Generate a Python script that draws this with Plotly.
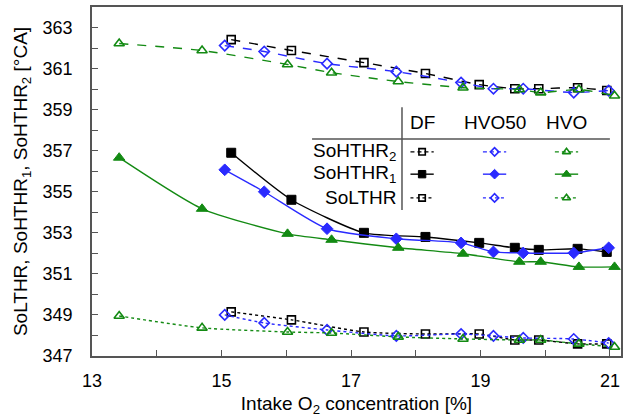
import plotly.graph_objects as go

# ---------------- data ----------------
x_df = [15.15, 16.08, 17.2, 18.15, 18.98, 19.53, 19.9, 20.5, 20.95]
x_hvo50 = [15.05, 15.66, 16.63, 17.7, 18.7, 19.2, 19.66, 20.44, 20.98]
x_hvo = [13.42, 14.7, 16.02, 16.7, 17.73, 18.73, 19.6, 19.93, 20.52, 21.07]

df_sohthr2 = [362.41, 361.88, 361.29, 360.76, 360.22, 360.02, 360.02, 360.07, 359.93]
df_sohthr1 = [356.9, 354.61, 353.0, 352.8, 352.51, 352.27, 352.17, 352.22, 352.07]
df_solthr = [349.15, 348.76, 348.17, 348.07, 348.07, 347.78, 347.78, 347.59, 347.59]

hvo50_sohthr2 = [362.12, 361.83, 361.24, 360.85, 360.32, 360.02, 360.02, 359.83, 359.93]
hvo50_sohthr1 = [356.07, 355.0, 353.2, 352.71, 352.51, 352.07, 352.02, 352.02, 352.27]
hvo50_solthr = [349.0, 348.61, 348.27, 347.98, 348.07, 347.98, 347.88, 347.83, 347.63]

hvo_sohthr2 = [362.22, 361.88, 361.2, 360.8, 360.37, 360.07, 359.98, 359.83, 359.98, 359.68]
hvo_sohthr1 = [356.66, 354.17, 352.95, 352.66, 352.27, 351.98, 351.59, 351.59, 351.34, 351.34]
hvo_solthr = [348.95, 348.37, 348.17, 348.12, 347.93, 347.83, 347.78, 347.78, 347.59, 347.44]

fuels = ["DF", "HVO50", "HVO"]
rows = ["SoHTHR<sub>2</sub>", "SoHTHR<sub>1</sub>", "SoLTHR"]
y_ticks = [347, 349, 351, 353, 355, 357, 359, 361, 363]
x_ticks = [13, 15, 17, 19, 21]

# ---------------- styles ----------------
BLACK = "#000000"
BLUE = "#2a2aff"
GREEN = "#138a13"
FONT = "Liberation Sans, Arial, sans-serif"

series = [
    # (x, y, color, symbol, dash, filled)
    (x_df, df_sohthr2, BLACK, "square", "dash", False),
    (x_hvo50, hvo50_sohthr2, BLUE, "diamond", "dash", False),
    (x_hvo, hvo_sohthr2, GREEN, "triangle-up", "dash", False),
    (x_df, df_sohthr1, BLACK, "square", "solid", True),
    (x_hvo50, hvo50_sohthr1, BLUE, "diamond", "solid", True),
    (x_hvo, hvo_sohthr1, GREEN, "triangle-up", "solid", True),
    (x_df, df_solthr, BLACK, "square", "dot", False),
    (x_hvo50, hvo50_solthr, BLUE, "diamond", "dot", False),
    (x_hvo, hvo_solthr, GREEN, "triangle-up", "dot", False),
]

fig = go.Figure()

def marker_for(color, symbol, filled, scale=1.0):
    size = {"square": 8, "diamond": 8, "triangle-up": 9}[symbol] * scale
    if filled:
        return dict(symbol=symbol, size=size + 1, color=color,
                    line=dict(color=color, width=1))
    return dict(symbol=symbol + "-open", size=size, color=color,
                line=dict(color=color, width=1.6))

for xs, ys, c, sym, dash, filled in series:
    fig.add_trace(go.Scatter(
        x=xs, y=ys, mode="lines+markers",
        line=dict(color=c, width=1.4, dash=dash, shape="spline", smoothing=0.6),
        marker=marker_for(c, sym, filled),
        showlegend=False, xaxis="x", yaxis="y",
    ))

# ---------------- custom table legend (overlay axes in paper units) ----------------
col_x = [0.624, 0.761, 0.897]
row_y = [0.585, 0.521, 0.453]
half = 0.022
styles_by_row = [("dash", False), ("solid", True), ("dot", False)]
colors = [BLACK, BLUE, GREEN]
symbols = ["square", "diamond", "triangle-up"]
for ri, (dash, filled) in enumerate(styles_by_row):
    for ci in range(3):
        fig.add_trace(go.Scatter(
            x=[col_x[ci] - half, col_x[ci], col_x[ci] + half],
            y=[row_y[ri]] * 3,
            mode="lines", line=dict(color=colors[ci], width=1.4,
                                    dash="4px,3px" if dash == "dash" else dash),
            showlegend=False, xaxis="x2", yaxis="y2", hoverinfo="skip",
        ))
        fig.add_trace(go.Scatter(
            x=[col_x[ci]], y=[row_y[ri]], mode="markers",
            marker=marker_for(colors[ci], symbols[ci], filled, scale=0.8),
            showlegend=False, xaxis="x2", yaxis="y2", hoverinfo="skip",
        ))

annotations = []
for ci, f in enumerate(fuels):
    annotations.append(dict(x=col_x[ci], y=0.668, xref="paper", yref="paper",
                            text=f, showarrow=False, xanchor="center", yanchor="middle",
                            font=dict(family=FONT, size=19, color="black")))
for ri, r in enumerate(rows):
    annotations.append(dict(x=0.578, y=row_y[ri], xref="paper", yref="paper",
                            text=r, showarrow=False, xanchor="right", yanchor="middle",
                            font=dict(family=FONT, size=19, color="black")))

shapes = [
    dict(type="line", xref="paper", yref="paper", x0=0.416, x1=0.979, y0=0.622, y1=0.622,
         line=dict(color="#555555", width=1.5)),
    dict(type="line", xref="paper", yref="paper", x0=0.586, x1=0.586, y0=0.418, y1=0.713,
         line=dict(color="#555555", width=1.5)),
]

axis_common = dict(
    showgrid=False, zeroline=False, showline=True, linecolor="#555555", linewidth=1.5,
    mirror=True, ticks="inside", ticklen=6, tickcolor="#555555", tickwidth=1,
    tickfont=dict(family=FONT, size=18, color="black"),
)

fig.update_layout(
    width=627, height=420,
    margin=dict(l=92, r=4, t=7, b=64),
    paper_bgcolor="white", plot_bgcolor="white",
    font=dict(family=FONT, color="black"),
    xaxis=dict(
        range=[13, 21.17], tickvals=x_ticks, ticktext=[str(v) for v in x_ticks],
        minor=dict(ticks="inside", dtick=1, tick0=13, ticklen=6, tickcolor="#555555"),
        ticklabelstandoff=8,
        title=dict(text="Intake O<sub>2</sub> concentration [%]",
                   font=dict(family=FONT, size=19, color="black"), standoff=6),
        **axis_common,
    ),
    yaxis=dict(
        range=[347, 364], tickvals=y_ticks, ticktext=[str(v) for v in y_ticks],
        minor=dict(ticks="inside", dtick=1, tick0=347, ticklen=6, tickcolor="#555555"),
        ticklabelstandoff=14,
        title=dict(text="SoLTHR, SoHTHR<sub>1</sub>, SoHTHR<sub>2</sub> [°CA]",
                   font=dict(family=FONT, size=19, color="black"), standoff=10),
        **axis_common,
    ),
    xaxis2=dict(overlaying="x", range=[0, 1], visible=False, domain=[0, 1]),
    yaxis2=dict(overlaying="y", range=[0, 1], visible=False, domain=[0, 1]),
    annotations=annotations,
    shapes=shapes,
)

fig.write_html("out.html")
